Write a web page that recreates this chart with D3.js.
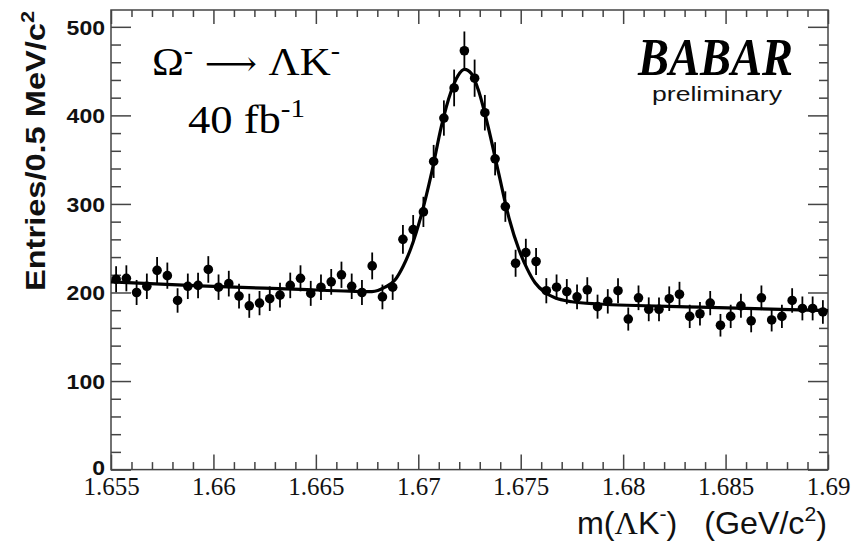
<!DOCTYPE html>
<html>
<head>
<meta charset="utf-8">
<script src="https://cdn.jsdelivr.net/npm/d3@7"></script>
<style>
  html, body { margin: 0; padding: 0; background: #fff; }
  svg { display: block; }
</style>
</head>
<body>
<svg id="chart" width="854" height="545"></svg>
<script>
// ---------- data ----------
const binLow = 1.655;            // GeV/c^2, first bin lower edge
const binWidth = 0.0005;         // 0.5 MeV bins
const counts = [
  215, 216, 200, 207, 225, 219, 191, 207, 208, 226,
  206, 210, 196, 185, 188, 193, 197, 208, 216, 199,
  206, 212, 220, 207, 200, 230, 195, 206, 260, 271,
  291, 348, 397, 431, 473, 442, 403, 351, 297, 233,
  245, 235, 202, 206, 201, 195, 203, 184, 190, 202,
  170, 194, 181, 181, 193, 198, 173, 176, 188, 163,
  173, 185, 168, 194, 169, 173, 191, 182, 182, 178
];
// fitted curve
const fitMass = [
  1.65500, 1.65934, 1.66423, 1.66667, 1.66774, 1.66838, 1.66886, 1.66925,
  1.66964, 1.67013, 1.67065, 1.67113, 1.67160, 1.67194, 1.67226, 1.67260,
  1.67294, 1.67340, 1.67392, 1.67443, 1.67492, 1.67531, 1.67570, 1.67619,
  1.67667, 1.67749, 1.67877, 1.68375, 1.69000
];
const fitValue = [
  212, 207.5, 203.5, 201.5, 201, 206, 214, 229,
  250, 286, 335, 388, 427, 445, 452, 447,
  428, 388, 335, 284, 248, 227, 211, 200,
  194, 189.5, 187, 183.5, 179.5
];
const yMajorTicks = [0, 100, 200, 300, 400, 500];
const xMajorTicks = [1.655, 1.66, 1.665, 1.67, 1.675, 1.68, 1.685, 1.69];
const xTickLabels = ["1.655", "1.66", "1.665", "1.67", "1.675", "1.68", "1.685", "1.69"];

// ---------- layout ----------
const svg = d3.select("#chart");
svg.append("rect").attr("width", 854).attr("height", 545).attr("fill", "#fff");

const x = d3.scaleLinear().domain([1.655, 1.69]).range([111, 828]);
const y = d3.scaleLinear().domain([0, 519]).range([469.6, 10]);

const axisColor = "#444";
const yMinor = d3.range(0, 519, 20).filter(v => !yMajorTicks.includes(v));
const xMinor = d3.range(0, 36).map(i => +(1.655 + i * 0.001).toFixed(3))
  .filter(v => !xMajorTicks.some(t => Math.abs(t - v) < 1e-9));

function styleAxis(g) {
  g.select(".domain").remove();
  g.selectAll(".tick line").attr("stroke", axisColor).attr("stroke-width", 1.5);
}

// left axis
const gL = svg.append("g").attr("transform", "translate(111,0)")
  .call(d3.axisLeft(y).tickValues(yMajorTicks).tickSize(-20).tickPadding(6).tickFormat(d3.format("d")));
styleAxis(gL);
gL.selectAll(".tick text")
  .attr("font-family", "Liberation Sans, Arial, sans-serif")
  .attr("font-weight", "bold").attr("font-size", 20).attr("fill", "#111")
  .attr("textLength", d => String(d).length * 12.8).attr("lengthAdjust", "spacingAndGlyphs")
  .attr("dy", d => d === 0 ? "0.25em" : "0.36em");
svg.append("g").attr("transform", "translate(111,0)")
  .call(d3.axisLeft(y).tickValues(yMinor).tickSize(-10).tickFormat("")).call(styleAxis);

// right axis
svg.append("g").attr("transform", "translate(828,0)")
  .call(d3.axisRight(y).tickValues(yMajorTicks).tickSize(-20).tickFormat("")).call(styleAxis);
svg.append("g").attr("transform", "translate(828,0)")
  .call(d3.axisRight(y).tickValues(yMinor).tickSize(-9).tickFormat("")).call(styleAxis);

// bottom axis
const gB = svg.append("g").attr("transform", "translate(0,469.6)")
  .call(d3.axisBottom(x).tickValues(xMajorTicks).tickSize(-15).tickPadding(4)
    .tickFormat((d, i) => xTickLabels[i]));
styleAxis(gB);
gB.selectAll(".tick text")
  .attr("font-family", "Liberation Serif, 'Times New Roman', serif")
  .attr("font-size", 25).attr("fill", "#111")
  .attr("y", 25).attr("dy", 0);
svg.append("g").attr("transform", "translate(0,469.6)")
  .call(d3.axisBottom(x).tickValues(xMinor).tickSize(-7.5).tickFormat("")).call(styleAxis);

// top axis
svg.append("g").attr("transform", "translate(0,10)")
  .call(d3.axisTop(x).tickValues(xMajorTicks).tickSize(-14).tickFormat("")).call(styleAxis);
svg.append("g").attr("transform", "translate(0,10)")
  .call(d3.axisTop(x).tickValues(xMinor).tickSize(-7).tickFormat("")).call(styleAxis);

// frame
svg.append("rect")
  .attr("x", x(1.655)).attr("y", y(519))
  .attr("width", x(1.69) - x(1.655)).attr("height", y(0) - y(519))
  .attr("fill", "none").attr("stroke", axisColor).attr("stroke-width", 1.5);

// ---------- fit curve ----------
const fitPts = fitMass.map((m, i) => [m, fitValue[i]]);
svg.append("path")
  .datum(fitPts)
  .attr("fill", "none").attr("stroke", "#000").attr("stroke-width", 3.2)
  .attr("d", d3.line().x(d => x(d[0])).y(d => y(d[1])).curve(d3.curveMonotoneX));

// ---------- data points ----------
const pts = counts.map((c, i) => ({ m: binLow + binWidth * (i + 0.5), c: c, e: Math.sqrt(c) }));
const gP = svg.append("g");
gP.selectAll("line.err").data(pts).join("line").attr("class", "err")
  .attr("x1", d => x(d.m)).attr("x2", d => x(d.m))
  .attr("y1", d => y(d.c - d.e)).attr("y2", d => y(d.c + d.e))
  .attr("stroke", "#000").attr("stroke-width", 1.8);
gP.selectAll("circle").data(pts).join("circle")
  .attr("cx", d => x(d.m)).attr("cy", d => y(d.c)).attr("r", 4.8).attr("fill", "#000");

// ---------- texts ----------
const serif = "Liberation Serif, 'Times New Roman', serif";
const sans = "Liberation Sans, Arial, Helvetica, sans-serif";

// y title
svg.append("text")
  .attr("transform", "translate(45,291) rotate(-90)")
  .attr("font-family", sans).attr("font-weight", "bold").attr("font-size", 27).attr("fill", "#111")
  .attr("textLength", 280).attr("lengthAdjust", "spacingAndGlyphs")
  .call(t => {
    t.append("tspan").text("Entries/0.5 MeV/c");
    t.append("tspan").attr("font-size", 18).attr("dy", -11).text("2");
  });

// x title
svg.append("text")
  .attr("x", 577).attr("y", 534)
  .attr("font-family", sans).attr("font-size", 32).attr("fill", "#111")
  .attr("textLength", 250).attr("lengthAdjust", "spacingAndGlyphs")
  .call(t => {
    t.append("tspan").text("m(");
    t.append("tspan").attr("font-family", serif).text("Λ");
    t.append("tspan").text("K");
    t.append("tspan").attr("font-size", 21).attr("dy", -13).text("-");
    t.append("tspan").attr("dy", 13).text(")\u00a0\u00a0\u00a0(GeV/c");
    t.append("tspan").attr("font-size", 21).attr("dy", -13).text("2");
    t.append("tspan").attr("dy", 13).text(")");
  });

// decay label
svg.append("text")
  .attr("x", 152).attr("y", 75)
  .attr("font-family", serif).attr("font-size", 40).attr("fill", "#000")
  .attr("textLength", 188).attr("lengthAdjust", "spacingAndGlyphs")
  .call(t => {
    t.append("tspan").text("Ω");
    t.append("tspan").attr("font-size", 26).attr("dy", -16).text("-");
    t.append("tspan").attr("dy", 16).attr("font-family", "DejaVu Serif, serif").attr("font-size", 34).text(" \u27F6 ");
    t.append("tspan").text("ΛK");
    t.append("tspan").attr("font-size", 26).attr("dy", -16).text("-");
  });

svg.append("text")
  .attr("x", 188).attr("y", 133)
  .attr("font-family", serif).attr("font-size", 40).attr("fill", "#000")
  .attr("textLength", 117).attr("lengthAdjust", "spacingAndGlyphs")
  .call(t => {
    t.append("tspan").text("40 fb");
    t.append("tspan").attr("font-size", 26).attr("dy", -16).text("-1");
  });

// BABAR logo
svg.append("text")
  .attr("x", 638).attr("y", 75)
  .attr("font-family", serif).attr("font-weight", "bold").attr("font-style", "italic")
  .attr("font-size", 53).attr("fill", "#000")
  .attr("textLength", 155).attr("lengthAdjust", "spacingAndGlyphs")
  .text("BABAR");

svg.append("text")
  .attr("x", 652).attr("y", 101)
  .attr("font-family", sans).attr("font-size", 20).attr("fill", "#111")
  .attr("textLength", 130).attr("lengthAdjust", "spacingAndGlyphs")
  .text("preliminary");
</script>
</body>
</html>
